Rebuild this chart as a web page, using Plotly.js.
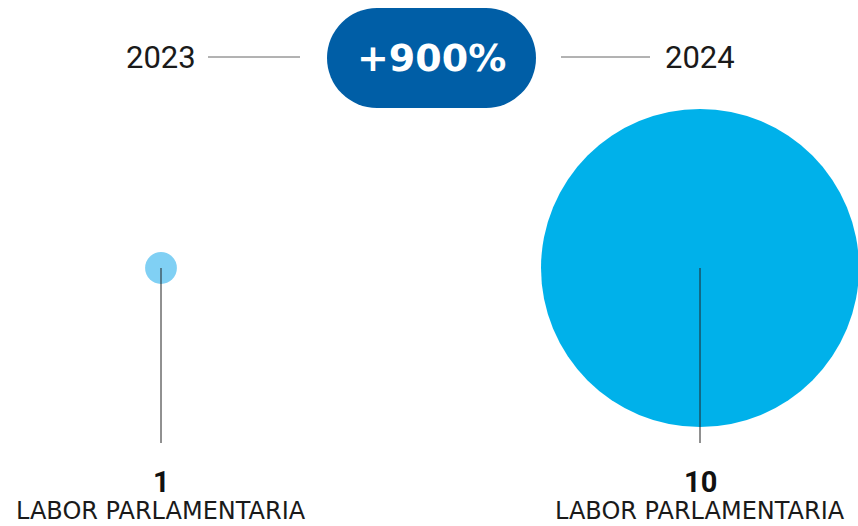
<!DOCTYPE html>
<html>
<head>
<meta charset="utf-8">
<script src="https://cdn.plot.ly/plotly-3.0.1.min.js"></script>
<style>html,body{margin:0;padding:0;background:#fff;}#chart{width:858px;height:526px;}</style>
</head>
<body>
<div id="chart"></div>
<script>
const years = ["2023", "2024"];
const values = [1, 10];
const category = "LABOR PARLAMENTARIA";
const change = "+900%";
const colors = ["#80d0f4", "#00b1ea"];

const W = 858, H = 526;
const xPos = [161, 700];
const cy = 268, lineBottom = 443;
const pxPerUnit = 31.8;

const traces = [];
values.forEach((v, i) => {
  traces.push({
    type: "scatter", mode: "markers",
    x: [xPos[i]], y: [cy],
    marker: {size: [v], sizemode: "diameter", sizeref: 1 / pxPerUnit, color: colors[i], line: {width: 0}, opacity: 1},
    hoverinfo: "skip", showlegend: false, cliponaxis: false
  });
});
values.forEach((v, i) => {
  traces.push({
    type: "scatter", mode: "lines",
    x: [xPos[i], xPos[i]], y: [cy, lineBottom],
    line: {color: "#222222", width: 1},
    hoverinfo: "skip", showlegend: false
  });
});

const font = "Roboto, 'DejaVu Sans', sans-serif";
const wide = "'DejaVu Sans', sans-serif";
const annotations = [];
years.forEach((y, i) => {
  annotations.push({x: xPos[i], y: 57, text: y, showarrow: false, xanchor: "center", yanchor: "middle",
    font: {family: font, size: 31, color: "#1a1a1a"}});
  annotations.push({x: xPos[i], y: 482, text: "<b>" + values[i] + "</b>", showarrow: false, xanchor: "center", yanchor: "middle",
    font: {family: font, size: 29, color: "#111111"}});
  annotations.push({x: xPos[i], y: H, text: category, showarrow: false, xanchor: "center", yanchor: "bottom",
    borderpad: 0, font: {family: wide, size: 24, color: "#1a1a1a"}});
});
annotations.push({x: 431.5, y: 58, text: "<b>" + change + "</b>", showarrow: false, xanchor: "center", yanchor: "middle",
  font: {family: wide, size: 38, color: "#ffffff"}});

const pill = "#005ea6";
const shapes = [
  {type: "circle", xref: "x", yref: "y", x0: 327, x1: 427, y0: 8, y1: 108, fillcolor: pill, line: {width: 0}, layer: "below"},
  {type: "circle", xref: "x", yref: "y", x0: 436, x1: 536, y0: 8, y1: 108, fillcolor: pill, line: {width: 0}, layer: "below"},
  {type: "rect", xref: "x", yref: "y", x0: 377, x1: 486, y0: 8, y1: 108, fillcolor: pill, line: {width: 0}, layer: "below"},
  {type: "line", xref: "x", yref: "y", x0: 208, x1: 300, y0: 57, y1: 57, line: {color: "#666666", width: 1}},
  {type: "line", xref: "x", yref: "y", x0: 561, x1: 650, y0: 57, y1: 57, line: {color: "#666666", width: 1}}
];

const layout = {
  width: W, height: H,
  margin: {l: 0, r: 0, t: 0, b: 0, pad: 0},
  paper_bgcolor: "#ffffff", plot_bgcolor: "#ffffff",
  xaxis: {range: [0, W], visible: false, fixedrange: true},
  yaxis: {range: [H, 0], visible: false, fixedrange: true},
  showlegend: false,
  shapes: shapes,
  annotations: annotations
};

Plotly.newPlot("chart", traces, layout, {displayModeBar: false, staticPlot: true});
</script>
</body>
</html>
